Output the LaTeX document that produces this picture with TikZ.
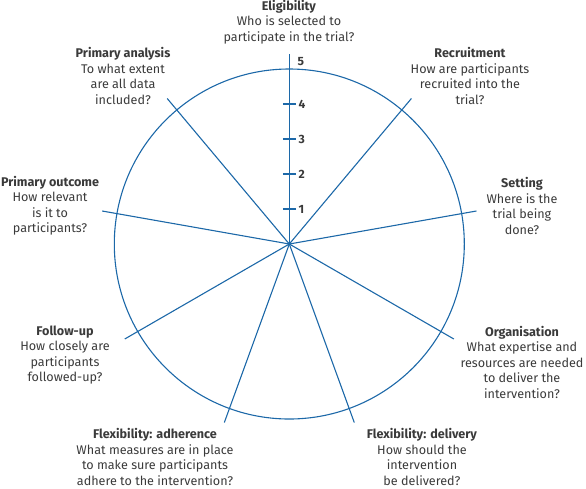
\documentclass[tikz,border=0pt]{standalone}
\usepackage{fontspec}
\setmainfont{Fira Sans}
\begin{document}
\begin{tikzpicture}[x=1pt,y=-1pt,
  spoke/.style={draw=lineblue,line width=1.1pt},
  lbl/.style={align=center,inner sep=0pt,text=textgray,font=\fontsize{12.6}{15.5}\selectfont},
  tick/.style={draw=lineblue,line width=1.1pt},
  num/.style={inner sep=0pt,text=textgray,font=\fontsize{12}{13}\selectfont\bfseries,anchor=west}]
\definecolor{lineblue}{RGB}{28,104,168}
\definecolor{textgray}{RGB}{58,58,58}
\useasboundingbox (0,0) rectangle (586,488);
\coordinate (O) at (289.3,244);
\draw[spoke] (O) circle[radius=175];
\foreach \i/\a in {0/0,1/40,2/80,3/120,4/160,5/200,6/240,7/280,8/320}{
  \coordinate (E\i) at ({289.3+190*sin(\a)},{244-190*cos(\a)});
  \draw[spoke] (O) -- (E\i);
}
\foreach \k in {1,...,4}{
  \coordinate (T\k) at (289.3,{244-35*\k});
  \draw[tick] ([xshift=-6.5pt]T\k) -- ([xshift=6.5pt]T\k);
  \node[num] (N\k) at ([xshift=9pt]T\k) {\k};
}
\coordinate (T5) at (289.3,69);
\node[num] (N5) at (297.5,61.5) {5};
\node[lbl] (elig) at (289,22) {\textbf{Eligibility}\\Who is selected to\\participate in the trial?};
\node[lbl] (recr) at (470,76) {\textbf{Recruitment}\\How are participants\\recruited into the\\trial?};
\node[lbl] (sett) at (522,206) {\textbf{Setting}\\Where is the\\trial being\\done?};
\node[lbl] (org) at (522,362) {\textbf{Organisation}\\What expertise and\\resources are needed\\to deliver the\\intervention?};
\node[lbl] (deliv) at (422,457) {\textbf{Flexibility: delivery}\\How should the\\intervention\\be delivered?};
\node[lbl] (adh) at (155,457) {\textbf{Flexibility: adherence}\\What measures are in place\\to make sure participants\\adhere to the intervention?};
\node[lbl] (foll) at (65,355) {\textbf{Follow-up}\\How closely are\\participants\\followed-up?};
\node[lbl] (pout) at (50,205.5) {\textbf{Primary outcome}\\How relevant\\is it to\\participants?};
\node[lbl] (pana) at (123,76) {\textbf{Primary analysis}\\To what extent\\are all data\\included?};
\end{tikzpicture}
\end{document}
